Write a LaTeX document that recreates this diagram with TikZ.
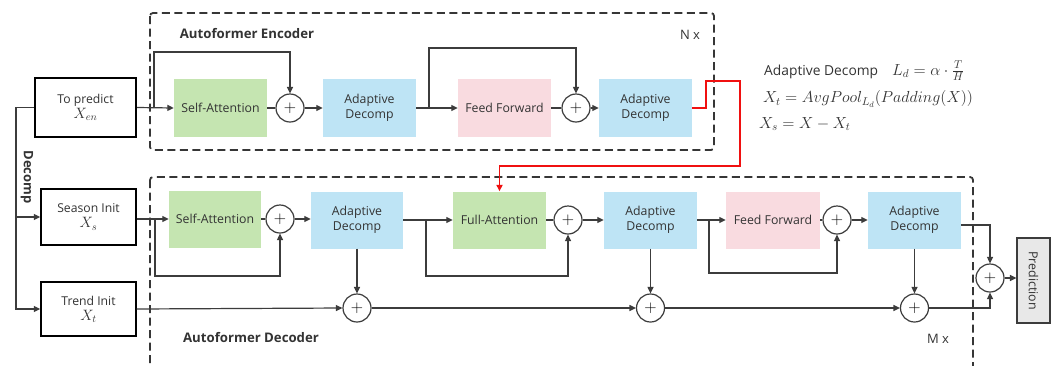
\RequirePackage{fix-cm}
\documentclass[tikz,border=0pt]{standalone}
\usepackage{fontspec}
\setmainfont{Open Sans}
\usetikzlibrary{arrows.meta}
\definecolor{lc}{HTML}{3C3C3C}
\definecolor{tc}{HTML}{333333}
\definecolor{gfill}{HTML}{C5E5B1}
\definecolor{bfill}{HTML}{BEE4F5}
\definecolor{pfill}{HTML}{F9DBE0}
\definecolor{prfill}{HTML}{E8E8E8}
\definecolor{redl}{HTML}{F01010}
\tikzset{
  blk/.style={rectangle,minimum width=93pt,minimum height=57pt,inner sep=0pt,align=center,font=\fontsize{12.3}{15}\selectfont,text=tc},
  gblk/.style={blk,fill=gfill},
  bblk/.style={blk,fill=bfill},
  pblk/.style={blk,fill=pfill},
  inbox/.style={rectangle,draw=black,line width=1.4pt,minimum width=95pt,minimum height=56pt,inner sep=0pt,align=center,font=\fontsize{12.2}{17}\selectfont,text=tc},
  plus/.style={circle,draw=lc,line width=1.2pt,fill=white,minimum size=28pt,inner sep=0pt,font=\fontsize{17}{17}\selectfont},
  ln/.style={draw=lc,line width=1.2pt},
  arr/.style={ln,-{Triangle[length=6.5pt,width=6pt]}},
  dbox/.style={draw=lc!90!black,line width=1.8pt,dash pattern=on 8pt off 4.5pt,rounded corners=3pt},
  lbl/.style={font=\bfseries\fontsize{13.2}{15}\selectfont,text=tc},
  nx/.style={font=\fontsize{13}{15}\selectfont,text=tc},
  mth/.style={anchor=west,font=\fontsize{16}{18}\selectfont,text=tc,inner sep=0pt},
}
\begin{document}
\begin{tikzpicture}[x=1pt,y=-1pt]
\clip (0,0) rectangle (1056,365);
\fill[white] (0,0) rectangle (1056,365);
% dashed frames
\draw[dbox] (150,13) rectangle (714,150);
\draw[dbox] (150,177) rectangle (973,390);
\node[lbl] (enclbl) at (247,34) {Autoformer Encoder};
\node[nx] (nlbl) at (690,35) {N x};
\node[lbl] (declbl) at (251,338) {Autoformer Decoder};
\node[nx] (mlbl) at (938,339) {M x};
% inputs
\node[inbox,line width=2.2pt,minimum width=101pt,minimum height=59pt] (tp) at (85.5,107.5) {To predict\\[-2pt] \fontsize{15}{15}\selectfont$X_{en}$};
\node[inbox] (si) at (88.5,217) {Season Init\\[-2pt] \fontsize{15}{15}\selectfont$X_{s}$};
\node[inbox,minimum height=54pt] (ti) at (88.5,309) {Trend Init\\[-2pt] \fontsize{15}{15}\selectfont$X_{t}$};
\node[font=\bfseries\fontsize{13}{15}\selectfont,text=tc,rotate=-90] (declab) at (27,177) {Decomp};
% encoder
\node[gblk,minimum height=58pt] (esa) at (220.5,108) {Self-Attention};
\node[plus] (ep1) at (290,108) {$+$};
\node[bblk,minimum height=58pt] (ead1) at (369.5,108) {Adaptive\\Decomp};
\node[pblk,minimum height=58pt] (eff) at (504.5,108) {Feed Forward};
\node[plus] (ep2) at (576,108) {$+$};
\node[bblk,minimum height=58pt] (ead2) at (645.5,108) {Adaptive\\Decomp};
% decoder
\node[gblk,minimum width=92pt] (dsa) at (215,219) {Self-Attention};
\node[plus] (dp1) at (280,219) {$+$};
\node[bblk,minimum width=92pt] (dad1) at (357,220) {Adaptive\\Decomp};
\node[gblk] (dfa) at (499.5,220) {Full-Attention};
\node[plus] (dp2) at (568,220) {$+$};
\node[bblk] (dad2) at (650.5,220) {Adaptive\\Decomp};
\node[pblk,minimum width=94pt] (dff) at (773,220) {Feed Forward};
\node[plus] (dp3) at (837,220) {$+$};
\node[bblk] (dad3) at (914.5,220) {Adaptive\\Decomp};
\node[plus] (tp1) at (357,308) {$+$};
\node[plus] (tp2) at (650.5,308) {$+$};
\node[plus] (tp3) at (914.5,308) {$+$};
\node[plus] (fp) at (990,278) {$+$};
\node[rectangle,draw=lc,line width=1.2pt,fill=prfill,minimum width=33pt,minimum height=85pt,inner sep=0pt] (pred) at (1033.5,280.5) {};
\node[rotate=-90,font=\fontsize{12.4}{14}\selectfont,text=tc] (predt) at (pred.center) {Prediction};
% formula
\node[anchor=west,font=\fontsize{13.8}{15}\selectfont,text=tc,inner sep=0pt] (f0) at (764,72) {Adaptive Decomp};
\node[mth] (f1) at (892,71) {$L_d=\alpha\cdot\frac{T}{H}$};
\node[mth] (f2) at (763,99) {$X_t=AvgPool_{L_d}(Padding(X))$};
\node[mth] (f3) at (759,124) {$X_s=X-X_t$};
% encoder connectors
\coordinate (eb1) at (154,108);
\coordinate (eb2) at (429,108);
\draw[arr] (tp.east) -- (esa.west);
\draw[arr] (eb1) -- (154,52) -| (ep1.north);
\draw[ln] (esa.east) -- (ep1.west);
\draw[arr] (ep1.east) -- (ead1.west);
\draw[arr] (ead1.east) -- (eff.west);
\draw[arr] (eb2) -- (429,48) -| (ep2.north);
\draw[ln] (eff.east) -- (ep2.west);
\draw[arr] (ep2.east) -- (ead2.west);
\draw[redl,line width=1.6pt,-{Triangle[length=6.5pt,width=6pt]}] (ead2.east) -- (706,108) -- (706,81) -- (740,81) -- (740,166) -| (dfa.north);
% decomp
\coordinate (dtop) at (16,107.5);
\draw[arr] (tp.west) -- (dtop) |- (ti.west);
\draw[arr] (dtop |- si.west) -- (si.west);
% decoder connectors
\coordinate (db1) at (155,219);
\coordinate (db2) at (426,220);
\coordinate (db3) at (709,220);
\draw[arr] (si.east |- dsa.west) -- (dsa.west);
\draw[arr] (db1) -- (155,276) -| (dp1.south);
\draw[ln] (dsa.east) -- (dp1.west);
\draw[arr] (dp1.east) -- (dad1.west |- dp1.east);
\draw[arr] (dad1.east) -- (dfa.west);
\draw[arr] (db2) -- (426,276) -| (dp2.south);
\draw[ln] (dfa.east) -- (dp2.west);
\draw[arr] (dp2.east) -- (dad2.west);
\draw[arr] (dad2.east) -- (dff.west);
\draw[arr] (db3) -- (709,273) -| (dp3.south);
\draw[ln] (dff.east) -- (dp3.west);
\draw[arr] (dp3.east) -- (dad3.west);
\draw[arr] (dad1.south) -- (tp1.north);
\draw[arr] (dad2.south) -- (tp2.north);
\draw[arr] (dad3.south) -- (tp3.north);
\draw[arr] (ti.east) -- (tp1.west);
\draw[arr] (tp1.east) -- (tp2.west);
\draw[arr] (tp2.east) -- (tp3.west);
\draw[arr] ([yshift=-5pt]dad3.east) -| (fp.north);
\draw[arr] (tp3.east) -| (fp.south);
\draw[arr] (fp.east) -- (pred.west |- fp.east);
\end{tikzpicture}
\end{document}
